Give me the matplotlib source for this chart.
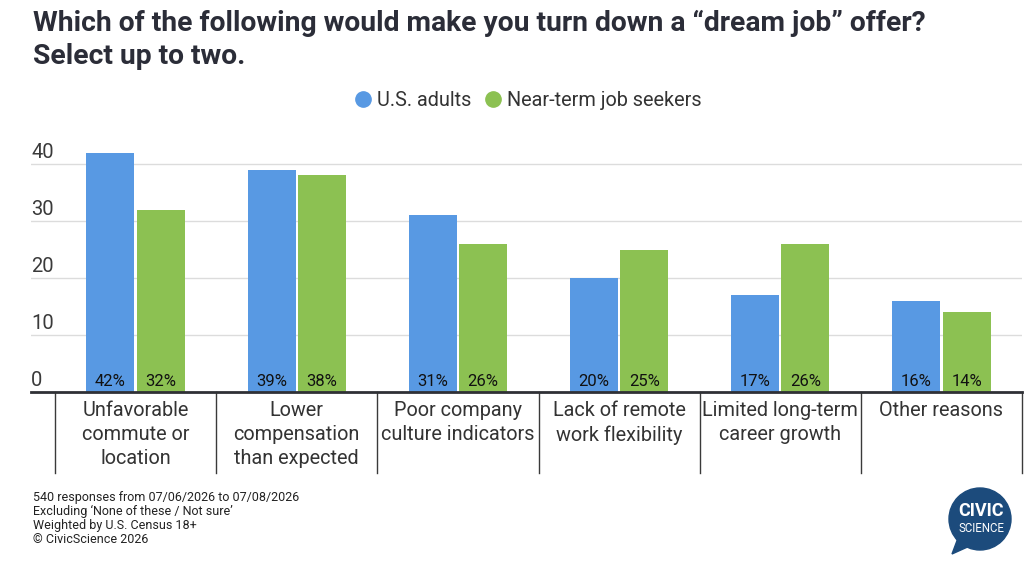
import matplotlib
matplotlib.use("Agg")
import matplotlib.pyplot as plt
import matplotlib.transforms as mtransforms
from matplotlib.patches import Circle, Polygon
from matplotlib.lines import Line2D
import numpy as np

plt.rcParams['font.family'] = ['Roboto', 'DejaVu Sans']

categories = ["Unfavorable\ncommute or\nlocation", "Lower\ncompensation\nthan expected",
              "Poor company\nculture indicators", "Lack of remote\nwork flexibility",
              "Limited long-term\ncareer growth", "Other reasons"]
us_adults = [42, 39, 31, 20, 17, 16]
job_seekers = [32, 38, 26, 25, 26, 14]
series_names = ["U.S. adults", "Near-term job seekers"]
yticks = [0, 10, 20, 30, 40]
footer_lines = ["540 responses from 07/06/2026 to 07/08/2026",
                "Excluding \u2018None of these / Not sure\u2019",
                "Weighted by U.S. Census 18+",
                "\u00a9 CivicScience 2026"]
title = "Which of the following would make you turn down a \u201cdream job\u201d offer?\nSelect up to two."

BLUE = "#5899e3"
GREEN = "#8cc152"
DARK = "#2b2d38"

W, H = 1036, 565
fig = plt.figure(figsize=(W/100, H/100), dpi=100)

ax_left, ax_right = 31/W, 1022/W
ax_bottom = 1 - 392/H
ymax = 45
ax_top = 1 - (392 - ymax*5.7)/H
ax = fig.add_axes([ax_left, ax_bottom, ax_right-ax_left, ax_top-ax_bottom])

x = np.arange(len(categories))
bw = 0.298
off = 0.156
b1 = ax.bar(x - off, us_adults, bw, color=BLUE, zorder=3)
b2 = ax.bar(x + off, job_seekers, bw, color=GREEN, zorder=3)

for bars, vals in ((b1, us_adults), (b2, job_seekers)):
    for rect, v in zip(bars, vals):
        ax.annotate(f"{v}%", (rect.get_x() + rect.get_width()/2, 0),
                    xytext=(0, 2), textcoords="offset points",
                    ha="center", va="bottom", fontsize=12, color="#111111", zorder=4)

ax.set_xlim(-0.5 - 24/161, 5.5)
ax.set_ylim(0, ymax)

# gridlines
for t in yticks[1:]:
    ax.axhline(t, color="#dcdcdc", lw=1, zorder=1)
ax.set_yticks(yticks)
ax.tick_params(axis="y", length=0, labelleft=False)
for t in yticks:
    ax.annotate(str(t), (0, t), xycoords=("axes fraction", "data"),
                xytext=(0, 1.5), textcoords="offset points",
                ha="left", va="bottom", fontsize=14.5, color="#3a3a3a")

ax.set_xticks(x)
ax.set_xticklabels(categories, fontsize=14.3, color="#333333", linespacing=1.32)
ax.tick_params(axis="x", length=0, pad=6.5)

for s in ["top", "right", "left"]:
    ax.spines[s].set_visible(False)
ax.spines["bottom"].set_color("#2f3035")
ax.spines["bottom"].set_linewidth(2)
ax.spines["bottom"].set_zorder(5)

# category separators
trans = mtransforms.blended_transform_factory(ax.transData, ax.transAxes)
ax_h_px = (ax_top - ax_bottom) * H
drop = -(473 - 392) / ax_h_px
for i in range(len(categories) + 1):
    ax.plot([i - 0.5, i - 0.5], [0, drop], transform=trans, color="#3a3a3a",
            lw=1, clip_on=False, zorder=5)

# title
fig.text(33/W, 1 - 10/H, title, ha="left", va="top", fontsize=20.3, fontweight="bold",
         color=DARK, linespacing=1.28)

# legend
handles = [Line2D([], [], marker="o", ls="", color=BLUE, markersize=11),
           Line2D([], [], marker="o", ls="", color=GREEN, markersize=11)]
fig.legend(handles, series_names, loc="center", bbox_to_anchor=(527/W, 1 - 100/H),
           ncol=2, frameon=False, fontsize=14.3, handletextpad=0.2, columnspacing=0.6,
           labelcolor="#333333", handlelength=1.0)

# footer
for k, line in enumerate(footer_lines):
    fig.text(33/W, 1 - (497 + 14.3*k)/H, line, ha="left", va="center", fontsize=9,
             color="#222222")

# logo
lax = fig.add_axes([0, 0, 1, 1], facecolor="none")
lax.set_xlim(0, W)
lax.set_ylim(H, 0)
lax.axis("off")
LOGO = "#1c4b7c"
lax.add_patch(Circle((980, 519), 31, color=LOGO))
lax.add_patch(Polygon([[958, 538], [952, 554], [972, 545]], closed=True, color=LOGO))
lax.text(981, 511, "CIVIC", ha="center", va="center", color="white", fontsize=13,
         fontweight="bold")
lax.text(981, 529, "SCIENCE", ha="center", va="center", color="white", fontsize=8.3)

fig.savefig("out.png", dpi=100)
